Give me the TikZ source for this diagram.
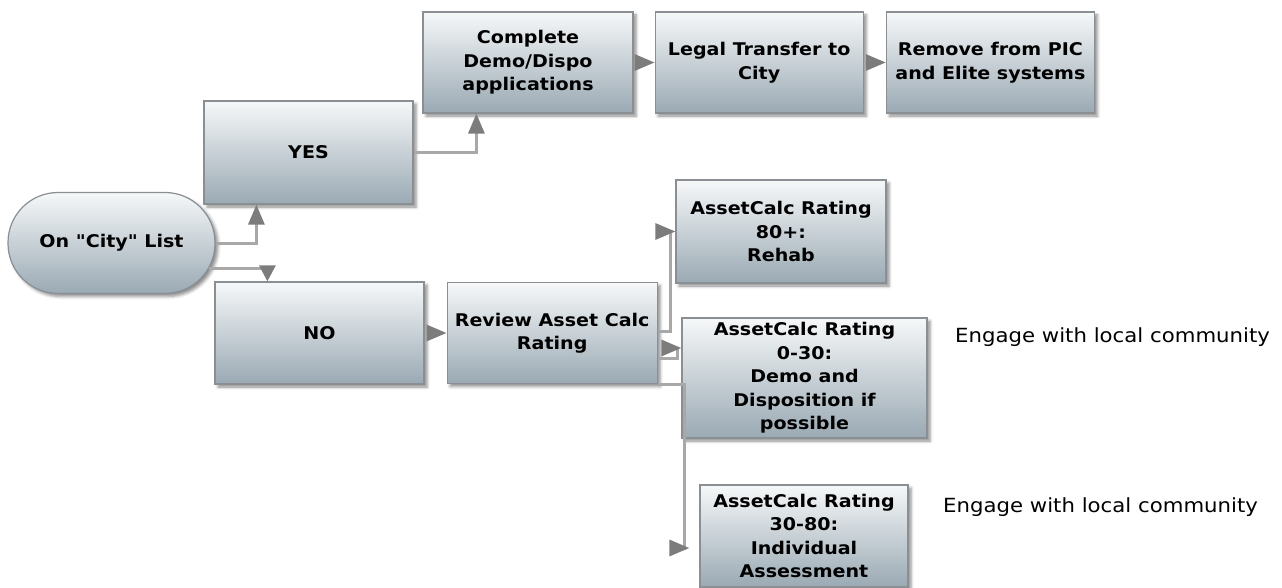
\documentclass[tikz,border=0pt]{standalone}
\usepackage{fontspec}
\newfontfamily\boxfont{DejaVu Sans}[FakeStretch=1.09]
\usetikzlibrary{arrows.meta, positioning, calc, shadows.blur}
\definecolor{boxtop}{HTML}{F6F8F9}
\definecolor{boxbot}{HTML}{9AA9B3}
\definecolor{boxline}{HTML}{8A8F94}
\definecolor{linegray}{HTML}{A8A8A8}
\definecolor{tipgray}{HTML}{7C7C7C}
\tikzset{
	box/.style={rectangle, draw=boxline, line width=1.2pt, top color=boxtop, bottom color=boxbot,
		minimum width=208pt, minimum height=101pt, align=center, inner sep=1pt,
		font=\boxfont\bfseries\fontsize{17.5}{23.5}\selectfont,
		blur shadow={shadow xshift=3pt, shadow yshift=-3pt, shadow blur radius=3pt, shadow opacity=45}},
	startbox/.style={box, rounded corners=50pt, minimum width=207pt},
	widebox/.style={box, minimum width=245pt, minimum height=120pt},
	note/.style={anchor=west, inner sep=0pt, font=\boxfont\fontsize{19.5}{23}\selectfont},
	conn/.style={draw=linegray, line width=3pt, -{Triangle[length=20pt, width=16pt, color=tipgray]}},
}
\begin{document}
\begin{tikzpicture}[x=1pt, y=-1pt, node distance=21pt]
	\useasboundingbox (0,0) rectangle (1282,588);
	% Start and decision
	\node[startbox] (city) at (111.5,243) {On "City" List};
	\node[box, minimum width=209pt, minimum height=103pt] (yes) at (308.5,152.5) {YES};
	\node[box, minimum width=209pt, minimum height=102pt] (no) at (319.5,333) {NO};
	% Yes branch
	\node[box, minimum width=210pt] (complete) at (528,62.5) {Complete\\Demo/Dispo\\applications};
	\node[box, right=21pt of complete] (legal) {Legal Transfer to\\City};
	\node[box, right=22pt of legal] (remove) {Remove from PIC\\and Elite systems};
	% No branch
	\node[box, minimum width=210pt, right=22pt of no] (review) {Review Asset Calc\\Rating};
	\node[box, minimum width=210pt, minimum height=103pt] (rehab) at (781,231.5) {AssetCalc Rating\\80+:\\Rehab};
	\node[widebox] (disp) at (804.5,378) {AssetCalc Rating\\0-30:\\Demo and\\Disposition if\\possible};
	\node[box, minimum height=102pt] (assess) at (804,536) {AssetCalc Rating\\30-80:\\Individual\\Assessment};
	\node[note] (engage_d) at (955,337) {Engage with local community};
	\node[note] (engage_a) at (943,507) {Engage with local community};
	% Connectors
	\draw[conn] (city.east) -| ($(yes.south west)+(53,0)$);
	\draw[conn, -{Triangle[length=16pt, width=16pt, color=tipgray]}] ($(city.east)+(-7,25)$) -| ($(no.north west)+(53,0)$);
	\draw[conn] (yes.east) -| ($(complete.south west)+(54,0)$);
	\draw[conn] (complete) -- (legal);
	\draw[conn] (legal) -- (remove);
	\draw[conn] (no) -- (review);
	\draw[conn] ($(review.east)+(0,-1.5)$) -- ++(13,0) |- (rehab.west);
	\draw[conn] ($(review.east)+(0,25.5)$) -- ++(20,0) |- ($(disp.west)+(0,-30)$);
	\draw[conn] (review.south east) -- ++(27,0) |- ($(assess.west)+(-10,12)$);
\end{tikzpicture}
\end{document}
